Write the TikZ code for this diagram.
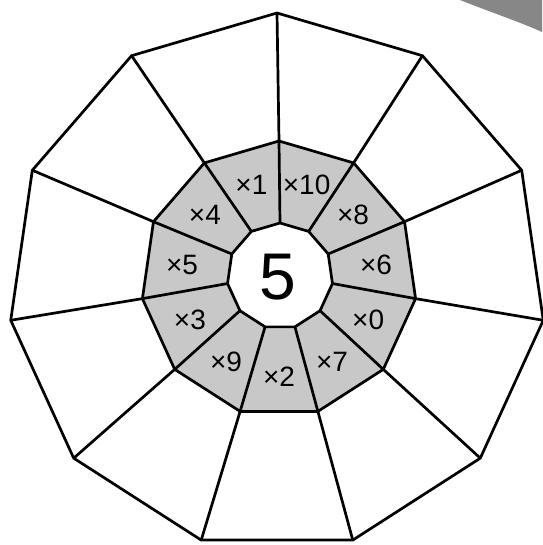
\documentclass[tikz,border=0pt]{standalone}
\usepackage{fontspec}
\setmainfont{Liberation Sans}
\definecolor{ringgray}{RGB}{200, 200, 200}
\definecolor{curlgray}{RGB}{135, 135, 135}

\begin{document}
\begin{tikzpicture}[x=1pt, y=1pt,
    edge/.style={line width=2.7pt, line join=round, color=black},
    tag/.style={font=\fontsize{28pt}{28pt}\selectfont, inner sep=0pt},
    hub/.style={font=\fontsize{66pt}{66pt}\selectfont, inner sep=0pt}
]
    \useasboundingbox (0,-545) rectangle (542,0);

    % shadow of the page corner
    \fill[curlgray] (460,0) .. controls (490,-12) and (520,-22) .. (542,-32) -- (542,0) -- cycle;

    % centres of the three rings
    \coordinate (oc) at (277,-282);
    \coordinate (mc) at (279,-279);
    \coordinate (ic) at (280,-276);

    \foreach \k in {1,...,11} {
        \pgfmathsetmacro{\a}{90-(\k-1)*360/11}
        \coordinate (o\k) at ([shift={(\a:269)}]oc);
        \coordinate (m\k) at ([shift={(\a:138)}]mc);
        \coordinate (i\k) at ([shift={(\a:53)}]ic);
    }

    \draw[edge] (o1) \foreach \k in {2,...,11} {-- (o\k)} -- cycle;
    \filldraw[edge, fill=ringgray] (m1) \foreach \k in {2,...,11} {-- (m\k)} -- cycle;
    \filldraw[edge, fill=white] (i1) \foreach \k in {2,...,11} {-- (i\k)} -- cycle;

    \foreach \k in {1,...,11}
        \draw[edge] (i\k) -- (m\k) -- (o\k);

    \foreach \n [count=\k] in {10,8,6,0,7,2,9,3,5,4,1} {
        \pgfmathsetmacro{\b}{90-(\k-0.5)*360/11}
        \node[tag] (t\k) at ([shift={(\b:98)}]mc) {×\n};
    }

    \node[hub] (five) at (278,-277) {5};
\end{tikzpicture}
\end{document}
